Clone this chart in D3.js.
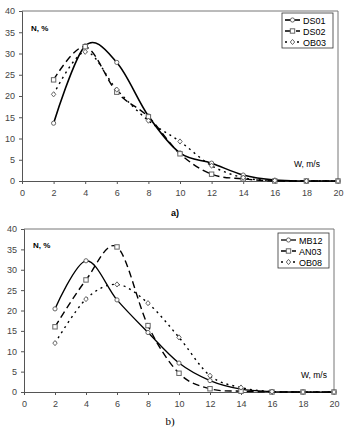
<!DOCTYPE html>
<html>
<head>
<meta charset="utf-8">
<script src="https://cdn.jsdelivr.net/npm/d3@7"></script>
<style>
  body { margin: 0; background: #fff; }
  svg text { font-family: "Liberation Sans", Arial, sans-serif; }
</style>
</head>
<body>
<div id="chart"></div>
<script>
// wind speed classes, m/s
var speeds = [2, 4, 6, 8, 10, 12, 14, 16, 18, 20];
var xTicks = [0, 2, 4, 6, 8, 10, 12, 14, 16, 18, 20];
var yTicks = [0, 5, 10, 15, 20, 25, 30, 35, 40];

// panel a)
var ds01 = [13.6, 31.8, 27.9, 15.3, 6.6, 4.2, 1.4, 0.2, 0, 0];
var ds02 = [23.8, 31.6, 20.9, 15.1, 6.4, 1.6, 0.5, 0, 0, 0];
var ob03 = [20.4, 30.4, 21.5, 14.2, 9.3, 3.6, 0.8, 0.1, 0, 0];
// panel b)
var mb12 = [20.4, 32.2, 22.6, 14.6, 7.1, 2.8, 0.7, 0.1, 0, 0];
var an03 = [16.0, 27.5, 35.6, 16.3, 4.6, 0.8, 0.2, 0, 0, 0];
var ob08 = [12.0, 22.8, 26.4, 21.8, 13.4, 4.0, 1.1, 0.1, 0, 0];

var svg = d3.select("#chart").append("svg")
    .attr("width", 349)
    .attr("height", 431);

function panel(opt) {
  var x = d3.scaleLinear().domain([0, 20]).range([opt.left, opt.right]);
  var y = d3.scaleLinear().domain([0, 40]).range([opt.bottom, opt.top]);
  var g = svg.append("g");

  // frame (top and right)
  g.append("path")
    .attr("d", "M" + opt.left + "," + opt.top + "H" + opt.right + "V" + opt.bottom)
    .attr("fill", "none")
    .attr("stroke", "#777")
    .attr("stroke-width", 1);

  var xa = g.append("g")
    .attr("transform", "translate(0," + opt.bottom + ")")
    .call(d3.axisBottom(x).tickValues(xTicks).tickSize(3).tickPadding(6).tickFormat(d3.format("d")));
  var ya = g.append("g")
    .attr("transform", "translate(" + opt.left + ",0)")
    .call(d3.axisLeft(y).tickValues(yTicks).tickSize(3).tickPadding(4));
  [xa, ya].forEach(function(a) {
    a.select(".domain").attr("stroke", "#555");
    a.selectAll(".tick line").attr("stroke", "#555");
    a.selectAll("text").attr("font-size", "9px").attr("fill", "#444")
      .style("font-family", "Liberation Sans, Arial, sans-serif");
  });

  var line = d3.line()
    .x(function(d, i) { return x(speeds[i]); })
    .y(function(d) { return y(d); })
    .curve(d3.curveCardinal.tension(0));

  opt.series.forEach(function(s) {
    g.append("path")
      .datum(s.values)
      .attr("d", line)
      .attr("fill", "none")
      .attr("stroke", "#000")
      .attr("stroke-width", s.width)
      .attr("stroke-dasharray", s.dash);
    s.values.forEach(function(v, i) {
      marker(g, s.shape, x(speeds[i]), y(v));
    });
  });

  g.append("text")
    .attr("x", opt.left + 9).attr("y", opt.nY)
    .attr("font-size", "8px").attr("font-weight", "bold")
    .text("N, %");
  g.append("text")
    .attr("x", opt.wX).attr("y", opt.bottom - 14)
    .attr("text-anchor", "end")
    .attr("font-size", "8.5px")
    .text("W, m/s");

  // legend
  var lg = g.append("g").attr("transform", "translate(" + opt.legX + "," + opt.legY + ")");
  lg.append("rect")
    .attr("width", 51).attr("height", 35)
    .attr("fill", "#fff").attr("stroke", "#333").attr("stroke-width", 0.8);
  opt.series.forEach(function(s, i) {
    var ly = 7 + i * 11;
    lg.append("line")
      .attr("x1", 3).attr("x2", 18).attr("y1", ly).attr("y2", ly)
      .attr("stroke", "#000").attr("stroke-width", s.width)
      .attr("stroke-dasharray", s.dash);
    marker(lg, s.shape, 10.5, ly);
    lg.append("text")
      .attr("x", 21).attr("y", ly + 3.5)
      .attr("font-size", "9px")
      .text(s.name);
  });

  g.append("text")
    .attr("x", opt.capX).attr("y", opt.capY)
    .attr("text-anchor", "middle")
    .attr("font-size", opt.capSize)
    .attr("font-weight", opt.capWeight)
    .style("font-family", opt.capFont)
    .text(opt.caption);
}

function marker(g, shape, cx, cy) {
  var m;
  if (shape === "circle") {
    m = g.append("circle").attr("cx", cx).attr("cy", cy).attr("r", 2.1);
  } else if (shape === "square") {
    m = g.append("rect").attr("x", cx - 2.2).attr("y", cy - 2.2).attr("width", 4.4).attr("height", 4.4);
  } else {
    m = g.append("path").attr("d", "M" + cx + "," + (cy - 2.6) + "L" + (cx + 2.2) + "," + cy +
      "L" + cx + "," + (cy + 2.6) + "L" + (cx - 2.2) + "," + cy + "Z");
  }
  m.attr("fill", "#fff").attr("stroke", "#666").attr("stroke-width", 1);
}

panel({
  left: 22, right: 338, top: 11, bottom: 181,
  nY: 31, wX: 320, legX: 282, legY: 13,
  caption: "a)", capX: 175, capY: 216, capSize: "9px", capWeight: "bold",
  capFont: "Liberation Sans, Arial, sans-serif",
  series: [
    {name: "DS01", values: ds01, shape: "circle", dash: null, width: 1.6},
    {name: "DS02", values: ds02, shape: "square", dash: "7,4", width: 1.4},
    {name: "OB03", values: ob03, shape: "diamond", dash: "2,4", width: 1.4}
  ]
});

panel({
  left: 24, right: 334, top: 229, bottom: 392,
  nY: 248, wX: 327, legX: 278, legY: 233,
  caption: "b)", capX: 170, capY: 425, capSize: "11px", capWeight: "normal",
  capFont: "Liberation Serif, Times New Roman, serif",
  series: [
    {name: "MB12", values: mb12, shape: "circle", dash: null, width: 1.3},
    {name: "AN03", values: an03, shape: "square", dash: "7,4", width: 1.4},
    {name: "OB08", values: ob08, shape: "diamond", dash: "2,4", width: 1.4}
  ]
});
</script>
</body>
</html>
